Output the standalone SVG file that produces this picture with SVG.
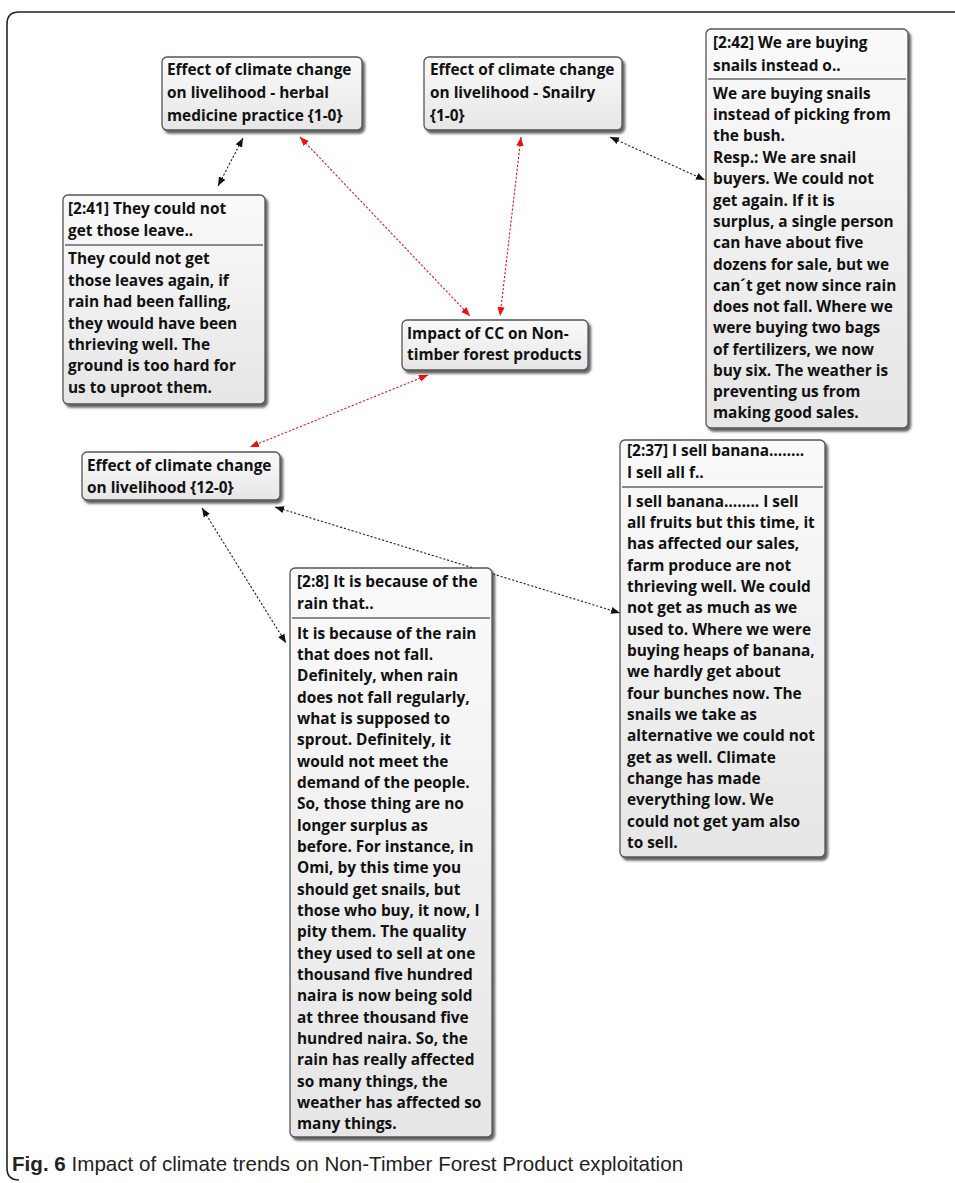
<svg xmlns="http://www.w3.org/2000/svg" width="955" height="1183" viewBox="0 0 955 1183">
<style>
.box{fill:url(#g);stroke:#555;stroke-width:1.3}
.sep{stroke:#666;stroke-width:1.3}
.t{font-family:"Open Sans","Noto Sans",sans-serif;font-weight:700;font-size:15.4px;fill:#111}
.cb{fill:none;stroke:#222;stroke-width:1.1;stroke-dasharray:2.2 1.8}
.cr{fill:none;stroke:#f01010;stroke-width:1.1;stroke-dasharray:2.2 1.8}
.cap{font-family:"Liberation Sans",Arial,sans-serif;font-size:20.6px;fill:#222}
</style>
<defs>
<linearGradient id="g" x1="0" y1="0" x2="0" y2="1">
<stop offset="0" stop-color="#fafafa"/>
<stop offset="1" stop-color="#e6e6e6"/>
</linearGradient>
<filter id="sh" x="-10%" y="-10%" width="130%" height="130%">
<feDropShadow dx="2.5" dy="3" stdDeviation="1.2" flood-color="#333" flood-opacity="0.75"/>
</filter>
<marker id="ab" viewBox="0 0 10 10" refX="10" refY="5" markerWidth="9" markerHeight="9" markerUnits="userSpaceOnUse" orient="auto-start-reverse">
<path d="M0,1 L10,5 L0,9 Z" fill="#111"/>
</marker>
<marker id="ar" viewBox="0 0 10 10" refX="10" refY="5" markerWidth="9" markerHeight="9" markerUnits="userSpaceOnUse" orient="auto-start-reverse">
<path d="M0,1 L10,5 L0,9 Z" fill="#f01010"/>
</marker>
</defs>
<rect width="955" height="1183" fill="#fff"/>
<path d="M955,12 H19 Q7,12 7,24 V1168 Q7,1180 19,1180" fill="none" stroke="#222" stroke-width="1.6"/>

<g id="connectors">
<line class="cb" x1="243" y1="138" x2="218" y2="186" marker-start="url(#ab)" marker-end="url(#ab)"/>
<line class="cr" x1="300" y1="137" x2="470" y2="316" marker-start="url(#ar)" marker-end="url(#ar)"/>
<line class="cr" x1="521" y1="137" x2="500" y2="316" marker-start="url(#ar)" marker-end="url(#ar)"/>
<line class="cb" x1="610" y1="137" x2="705" y2="180" marker-start="url(#ab)" marker-end="url(#ab)"/>
<line class="cr" x1="428" y1="375" x2="250" y2="447" marker-start="url(#ar)" marker-end="url(#ar)"/>
<line class="cb" x1="275" y1="507" x2="620" y2="613" marker-start="url(#ab)" marker-end="url(#ab)"/>
<line class="cb" x1="202" y1="508" x2="286" y2="643" marker-start="url(#ab)" marker-end="url(#ab)"/>
</g>

<g id="nodeA">
<rect class="box" x="162" y="57" width="200" height="73" rx="5" filter="url(#sh)"/>
<text class="t" x="167" y="75">Effect of climate change</text>
<text class="t" x="167" y="98">on livelihood - herbal</text>
<text class="t" x="167" y="121">medicine practice {1-0}</text>
</g>

<g id="nodeB">
<rect class="box" x="424" y="57" width="198" height="73" rx="5" filter="url(#sh)"/>
<text class="t" x="430" y="75">Effect of climate change</text>
<text class="t" x="430" y="98">on livelihood - Snailry</text>
<text class="t" x="430" y="121">{1-0}</text>
</g>

<g id="nodeC">
<rect class="box" x="706" y="29" width="202" height="399" rx="5" filter="url(#sh)"/>
<text class="t" x="713" y="48">[2:42] We are buying</text>
<text class="t" x="713" y="71">snails instead o..</text>
<line class="sep" x1="708" y1="79" x2="906" y2="79"/>
<text class="t" x="713" y="99">We are buying snails</text>
<text class="t" x="713" y="120">instead of picking from</text>
<text class="t" x="713" y="141">the bush.</text>
<text class="t" x="713" y="163">Resp.: We are snail</text>
<text class="t" x="713" y="184">buyers. We could not</text>
<text class="t" x="713" y="206">get again. If it is</text>
<text class="t" x="713" y="227">surplus, a single person</text>
<text class="t" x="713" y="248">can have about five</text>
<text class="t" x="713" y="270">dozens for sale, but we</text>
<text class="t" x="713" y="291">can´t get now since rain</text>
<text class="t" x="713" y="312">does not fall. Where we</text>
<text class="t" x="713" y="333">were buying two bags</text>
<text class="t" x="713" y="355">of fertilizers, we now</text>
<text class="t" x="713" y="376">buy six. The weather is</text>
<text class="t" x="713" y="397">preventing us from</text>
<text class="t" x="713" y="418">making good sales.</text>
</g>

<g id="nodeD">
<rect class="box" x="63" y="195" width="202" height="209" rx="5" filter="url(#sh)"/>
<text class="t" x="68" y="214">[2:41] They could not</text>
<text class="t" x="68" y="236">get those leave..</text>
<line class="sep" x1="65" y1="245" x2="263" y2="245"/>
<text class="t" x="68" y="264">They could not get</text>
<text class="t" x="68" y="286">those leaves again, if</text>
<text class="t" x="68" y="307">rain had been falling,</text>
<text class="t" x="68" y="329">they would have been</text>
<text class="t" x="68" y="350">thrieving well. The</text>
<text class="t" x="68" y="371">ground is too hard for</text>
<text class="t" x="68" y="393">us to uproot them.</text>
</g>

<g id="nodeE">
<rect class="box" x="402" y="320" width="186" height="50" rx="5" filter="url(#sh)"/>
<text class="t" x="407" y="339">Impact of CC on Non-</text>
<text class="t" x="407" y="360">timber forest products</text>
</g>

<g id="nodeF">
<rect class="box" x="82" y="452" width="198" height="48" rx="5" filter="url(#sh)"/>
<text class="t" x="87" y="471">Effect of climate change</text>
<text class="t" x="87" y="493">on livelihood {12-0}</text>
</g>

<g id="nodeG">
<rect class="box" x="620" y="440" width="205" height="417" rx="5" filter="url(#sh)"/>
<text class="t" x="627" y="456">[2:37] I sell banana……..</text>
<text class="t" x="627" y="478">I sell all f..</text>
<line class="sep" x1="622" y1="487" x2="823" y2="487"/>
<text class="t" x="627" y="507">I sell banana…….. I sell</text>
<text class="t" x="627" y="528">all fruits but this time, it</text>
<text class="t" x="627" y="549">has affected our sales,</text>
<text class="t" x="627" y="571">farm produce are not</text>
<text class="t" x="627" y="592">thrieving well. We could</text>
<text class="t" x="627" y="613">not get as much as we</text>
<text class="t" x="627" y="635">used to. Where we were</text>
<text class="t" x="627" y="656">buying heaps of banana,</text>
<text class="t" x="627" y="677">we hardly get about</text>
<text class="t" x="627" y="699">four bunches now. The</text>
<text class="t" x="627" y="720">snails we take as</text>
<text class="t" x="627" y="741">alternative we could not</text>
<text class="t" x="627" y="763">get as well. Climate</text>
<text class="t" x="627" y="784">change has made</text>
<text class="t" x="627" y="805">everything low. We</text>
<text class="t" x="627" y="827">could not get yam also</text>
<text class="t" x="627" y="848">to sell.</text>
</g>

<g id="nodeH">
<rect class="box" x="290" y="568" width="202" height="569" rx="5" filter="url(#sh)"/>
<text class="t" x="297" y="587">[2:8] It is because of the</text>
<text class="t" x="297" y="609">rain that..</text>
<line class="sep" x1="292" y1="618" x2="490" y2="618"/>
<text class="t" x="297" y="639">It is because of the rain</text>
<text class="t" x="297" y="660">that does not fall.</text>
<text class="t" x="297" y="681">Definitely, when rain</text>
<text class="t" x="297" y="703">does not fall regularly,</text>
<text class="t" x="297" y="724">what is supposed to</text>
<text class="t" x="297" y="745">sprout. Definitely, it</text>
<text class="t" x="297" y="767">would not meet the</text>
<text class="t" x="297" y="788">demand of the people.</text>
<text class="t" x="297" y="809">So, those thing are no</text>
<text class="t" x="297" y="831">longer surplus as</text>
<text class="t" x="297" y="852">before. For instance, in</text>
<text class="t" x="297" y="873">Omi, by this time you</text>
<text class="t" x="297" y="895">should get snails, but</text>
<text class="t" x="297" y="916">those who buy, it now, I</text>
<text class="t" x="297" y="937">pity them. The quality</text>
<text class="t" x="297" y="959">they used to sell at one</text>
<text class="t" x="297" y="980">thousand five hundred</text>
<text class="t" x="297" y="1001">naira is now being sold</text>
<text class="t" x="297" y="1023">at three thousand five</text>
<text class="t" x="297" y="1044">hundred naira. So, the</text>
<text class="t" x="297" y="1065">rain has really affected</text>
<text class="t" x="297" y="1087">so many things, the</text>
<text class="t" x="297" y="1108">weather has affected so</text>
<text class="t" x="297" y="1129">many things.</text>
</g>

<text class="cap" x="12" y="1171"><tspan font-weight="700">Fig. 6</tspan> Impact of climate trends on Non-Timber Forest Product exploitation</text>
</svg>
